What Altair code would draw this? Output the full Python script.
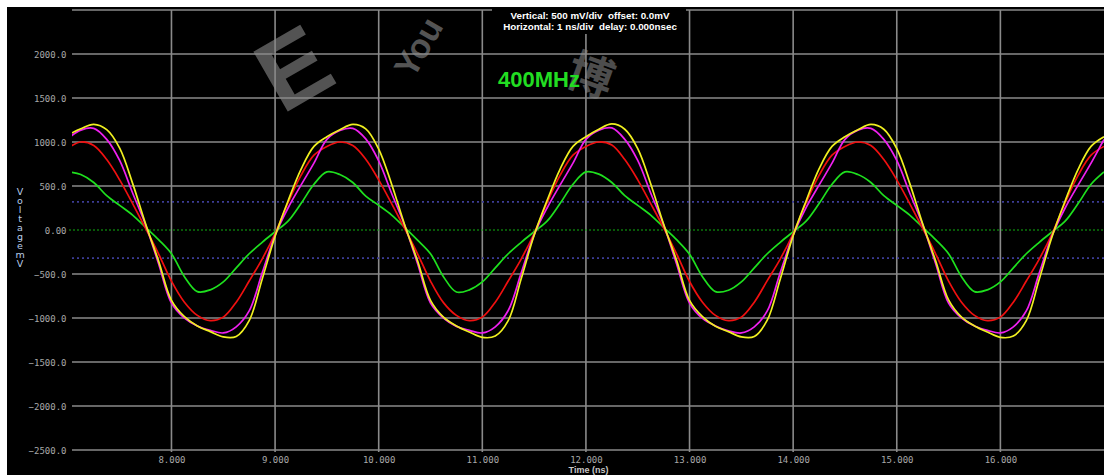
import altair as alt
import pandas as pd

# sample times (ns)
T = [round(7.0 + 0.125 * i, 3) for i in range(81)]

YELLOW = [1080, 1150, 1200, 1140, 930, 530, 70, -350, -800, -985, -1090, -1155, -1215, -1210, -1030, -560, -70, 330, 690, 950,
          1060, 1140, 1200, 1150, 920, 520, 60, -350, -800, -990, -1090, -1160, -1220, -1205, -1030, -555, -60, 335, 690, 950,
          1060, 1145, 1205, 1145, 925, 525, 65, -345, -800, -985, -1095, -1155, -1215, -1210, -1025, -560, -65, 330, 695, 950,
          1060, 1140, 1200, 1145, 925, 530, 70, -350, -795, -990, -1090, -1160, -1220, -1205, -1030, -560, -70, 330, 690, 950,
          1060]
MAGENTA = [1040, 1135, 1155, 1030, 790, 420, 60, -380, -830, -1000, -1090, -1140, -1170, -1100, -920, -490, -60, 250, 510, 760,
           1030, 1130, 1155, 1035, 785, 415, 55, -380, -830, -1000, -1095, -1140, -1170, -1100, -915, -490, -55, 250, 510, 760,
           1030, 1135, 1160, 1030, 790, 420, 60, -385, -830, -1005, -1090, -1145, -1170, -1100, -920, -485, -60, 255, 510, 760,
           1030, 1135, 1155, 1030, 790, 420, 60, -380, -830, -1000, -1090, -1140, -1170, -1100, -920, -490, -60, 250, 510, 760,
           1030]
RED = [930, 1000, 960, 800, 570, 300, 20, -270, -580, -820, -970, -1030, -990, -820, -580, -330, -40, 310, 620, 850,
       950, 1000, 960, 805, 570, 300, 20, -270, -580, -825, -970, -1030, -990, -820, -580, -330, -40, 310, 620, 850,
       950, 1000, 965, 800, 570, 300, 25, -270, -585, -820, -970, -1030, -990, -820, -575, -330, -40, 310, 620, 850,
       950, 1000, 960, 800, 570, 300, 20, -270, -580, -820, -970, -1030, -990, -820, -580, -330, -40, 310, 620, 850,
       950]
GREEN = [663, 630, 540, 390, 280, 170, 30, -110, -270, -530, -700, -680, -590, -430, -270, -140, -20, 100, 300, 520,
         660, 630, 540, 385, 280, 170, 30, -115, -270, -530, -705, -680, -590, -430, -270, -140, -20, 100, 300, 520,
         660, 635, 540, 390, 280, 170, 30, -110, -275, -530, -700, -685, -590, -430, -270, -140, -20, 100, 300, 520,
         660, 630, 540, 390, 280, 170, 30, -110, -270, -530, -700, -680, -590, -430, -270, -140, -20, 100, 300, 520,
         660]

SERIES = [("green", GREEN, "#1ee01e"), ("red", RED, "#f01010"),
          ("magenta", MAGENTA, "#f020f0"), ("yellow", YELLOW, "#f0f020")]

GRID_Y = [-2500, -2000, -1500, -1000, -500, 500, 1000, 1500, 2000, 2500]
GRID_X = [8, 9, 10, 11, 12, 13, 14, 15, 16]
Y_TICKS = [-2500, -2000, -1500, -1000, -500, 0, 500, 1000, 1500, 2000]
LIMITS = [-320, 320]

W, H = 1032, 440
xscale = alt.Scale(domain=[7.04, 17.0], nice=False, zero=False)
yscale = alt.Scale(domain=[-2500, 2500], nice=False, zero=False)

xaxis = alt.Axis(values=GRID_X, labelExpr="format(datum.value, '.3f')", grid=False, domain=False, ticks=False,
                 labelColor="#a8a8a8", labelFont="DejaVu Sans Mono", labelFontSize=9, labelPadding=5,
                 title="Time  (ns)", titleColor="#c8c8c8", titleFont="Liberation Sans", titleFontSize=9,
                 titleFontWeight="bold", titlePadding=1, zindex=2)
yaxis = alt.Axis(values=Y_TICKS, labelExpr="datum.value == 0 ? '0.00' : format(datum.value, '.1f')",
                 grid=False, domain=False, ticks=False, labelColor="#a8a8a8", labelFont="DejaVu Sans Mono",
                 labelFontSize=9, labelPadding=6, title=None, zindex=2)

one = pd.DataFrame({"a": [0]})

bg = alt.Chart(one).mark_rect(color="#000000").encode(
    x=alt.value(-65), x2=alt.value(W + 10), y=alt.value(-3), y2=alt.value(H + 40))

hgrid = alt.Chart(pd.DataFrame({"y": GRID_Y})).mark_rule(color="#8a8a8a", strokeWidth=1.6).encode(
    y=alt.Y("y:Q", scale=yscale, axis=yaxis), x=alt.value(0), x2=alt.value(W))

vgrid = alt.Chart(pd.DataFrame({"x": GRID_X})).mark_rule(color="#8a8a8a", strokeWidth=1.6).encode(
    x=alt.X("x:Q", scale=xscale, axis=xaxis), y=alt.value(0), y2=alt.value(H + 2))

lim = alt.Chart(pd.DataFrame({"y": LIMITS})).mark_rule(color="#3c3c96", strokeWidth=1.6, strokeDash=[2, 3]).encode(
    y=alt.Y("y:Q", scale=yscale, axis=yaxis), x=alt.value(0), x2=alt.value(W))

zero = alt.Chart(pd.DataFrame({"y": [0]})).mark_rule(color="#10b010", strokeWidth=1, strokeDash=[2, 2]).encode(
    y=alt.Y("y:Q", scale=yscale, axis=yaxis), x=alt.value(-3), x2=alt.value(W))

# faint watermark (approximation of the logo in the reference)
wm_e = alt.Chart(one).mark_text(color="#d0d0d0", opacity=0.4, font="Liberation Sans", fontSize=100,
                                fontWeight="bold", angle=330, align="center", baseline="middle").encode(
    x=alt.value(224), y=alt.value(62), text=alt.value("E"))
wm_you = alt.Chart(one).mark_text(color="#9a9a9a", opacity=0.55, font="Liberation Sans", fontSize=34,
                                  fontWeight="bold", angle=300, align="center", baseline="middle").encode(
    x=alt.value(348), y=alt.value(38), text=alt.value("You"))
wm_bo = alt.Chart(one).mark_text(color="#9a9a9a", opacity=0.5, font="Noto Sans CJK SC", fontSize=46,
                                 fontWeight="bold", angle=20, align="center", baseline="middle").encode(
    x=alt.value(518), y=alt.value(68), text=alt.value("博"))

lines = []
for i, (name, vals, col) in enumerate(SERIES):
    df = pd.DataFrame({"t": T, "v": vals})
    lines.append(alt.Chart(df).mark_line(color=col, strokeWidth=1.7, interpolate="catmull-rom", clip=True)
                 .encode(x=alt.X("t:Q", scale=xscale, axis=xaxis), y=alt.Y("v:Q", scale=yscale, axis=yaxis)))

hdr_box = alt.Chart(one).mark_rect(color="#000000").encode(
    x=alt.value(420), x2=alt.value(614), y=alt.value(-3), y2=alt.value(24))
hdr1 = alt.Chart(one).mark_text(color="#ffffff", font="Liberation Sans", fontSize=9.8, fontWeight="bold",
                                align="center", baseline="middle").encode(
    x=alt.value(518), y=alt.value(5.5), text=alt.value("Vertical: 500 mV/div\u00a0 offset: 0.0mV"))
hdr2 = alt.Chart(one).mark_text(color="#ffffff", font="Liberation Sans", fontSize=9.8, fontWeight="bold",
                                align="center", baseline="middle").encode(
    x=alt.value(518), y=alt.value(17), text=alt.value("Horizontal: 1 ns/div\u00a0 delay: 0.000nsec"))
freq = alt.Chart(one).mark_text(color="#22dd22", font="Liberation Sans", fontSize=22, fontWeight="bold",
                                align="center", baseline="middle").encode(
    x=alt.value(467), y=alt.value(70), text=alt.value("400MHz"))
ytitle = alt.Chart(one).mark_text(color="#b8cdea", font="DejaVu Sans", fontSize=9.5, lineHeight=9,
                                  lineBreak="\n", align="center", baseline="middle").encode(
    x=alt.value(-52), y=alt.value(182), text=alt.value("V\no\nl\nt\na\ng\ne\nm\nV"))

chart = alt.layer(bg, wm_e, wm_you, wm_bo, hgrid, vgrid, lim, zero, *lines,
                  hdr_box, hdr1, hdr2, freq, ytitle).properties(
    width=W, height=H, background="#ffffff",
    padding={"left": 72, "top": 10, "right": 0, "bottom": 25},
    autosize=alt.AutoSizeParams(type="none"),
).configure_view(stroke=None)

chart.save("out.html", embed_options={"renderer": "svg", "actions": False})
